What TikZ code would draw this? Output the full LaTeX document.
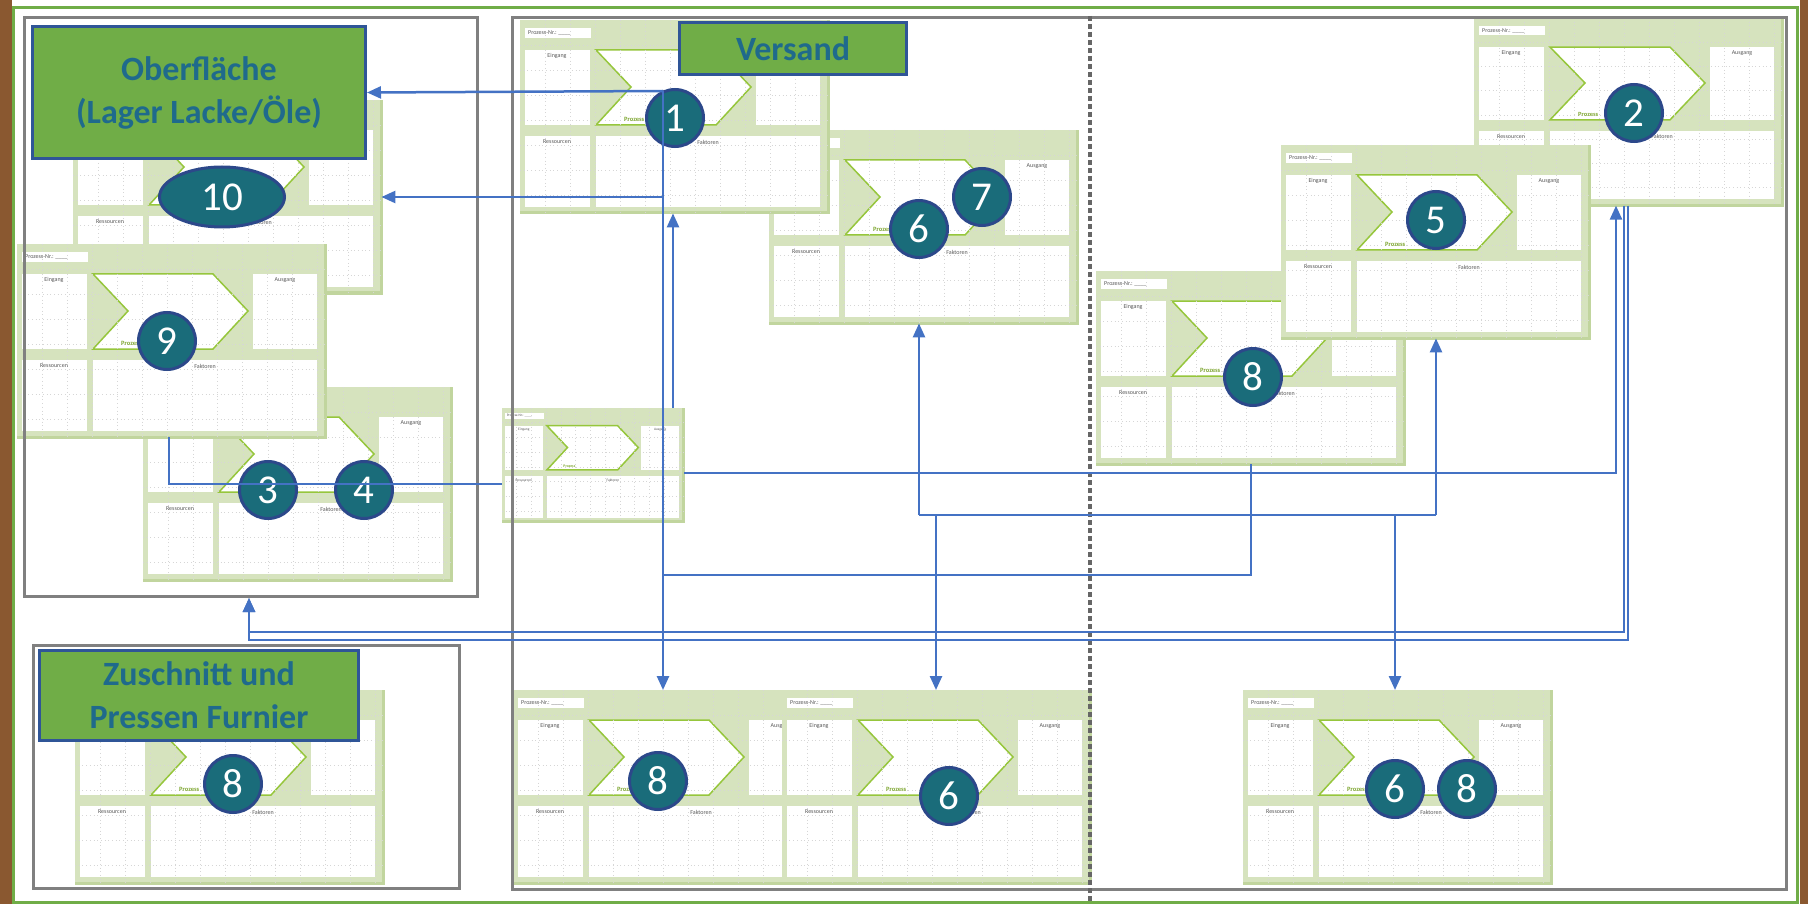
\documentclass[tikz,border=0pt]{standalone}
\usepackage{fontspec}
\setmainfont{Carlito}
\usetikzlibrary{arrows.meta}
\usetikzlibrary{shapes.geometric}

\definecolor{kartengruen}{RGB}{214,227,190}
\definecolor{kartenrand}{RGB}{193,213,158}
\definecolor{pfeilgruen}{RGB}{150,198,60}
\definecolor{etikettgruen}{RGB}{112,173,71}
\definecolor{etikettrand}{RGB}{47,85,151}
\definecolor{schrift}{RGB}{31,106,140}
\definecolor{kreis}{RGB}{26,108,122}
\definecolor{kreisrand}{RGB}{44,72,138}
\definecolor{verbindung}{RGB}{68,114,196}
\definecolor{holz}{RGB}{138,88,48}

\newcommand{\karte}[5]{%
  \begin{scope}[shift={(#2,#3)},xscale=#4,yscale=#5,every node/.append style={transform shape}]
    \fill[kartengruen] (0,0) rectangle (308,193);
    \draw[kartenrand,line width=3pt] (0,193) -- (308,193) -- (308,0);
    \fill[white] (5,8) rectangle (71,18);
    \fill[white] (5,30) rectangle (70,105);
    \fill[white] (236,30) rectangle (300,105);
    \fill[white] (5,116) rectangle (70,187);
    \fill[white] (76,116) rectangle (300,187);
    \filldraw[fill=white,draw=pfeilgruen,line width=1.5pt]
      (76,30) -- (196,30) -- (231,67) -- (196,105) -- (76,105) -- (111,67) -- cycle;
    \foreach \gx in {25,50,...,300} \draw[raster] (\gx,0) -- (\gx,193);
    \foreach \gy in {25,50,...,175} \draw[raster] (0,\gy) -- (308,\gy);
    \node[kartentext,anchor=west] (#1-nr) at (8,13) {Prozess-Nr.: \_\_\_\_};
    \node[kartentext] (#1-ein) at (37,36) {Eingang};
    \node[kartentext] (#1-aus) at (268,36) {Ausgang};
    \node[kartentext] (#1-res) at (37,122) {Ressourcen};
    \node[kartentext] (#1-fak) at (188,122) {Faktoren};
    \node[prozesstext,anchor=west] (#1-pz) at (104,99) {Prozess};
  \end{scope}
  \node[anchor=north west,inner sep=0pt,minimum width=#4*308pt,minimum height=#5*193pt] (#1) at (#2,#3) {};
}

\begin{document}
\begin{tikzpicture}[x=1pt,y=-1pt,
  kartentext/.style={font=\fontsize{6}{6}\selectfont,text=black!65,inner sep=0pt},
  prozesstext/.style={font=\bfseries\fontsize{6.5}{6.5}\selectfont,text=pfeilgruen!85!black,inner sep=0pt},
  raster/.style={black!16,line width=0.6pt,dash pattern=on 0.7pt off 3pt},
  bereich/.style={draw=black!50,line width=3pt,anchor=north west,inner sep=0pt},
  etikett/.style={fill=etikettgruen,draw=etikettrand,line width=3pt,text=schrift,
    font=\bfseries\fontsize{34}{43}\selectfont,align=center,anchor=north west,inner sep=0pt},
  nummer/.style={circle,fill=kreis,draw=kreisrand,line width=3pt,text=white,
    font=\fontsize{41}{41}\selectfont,minimum size=57pt,inner sep=0pt},
  verbinder/.style={verbindung,line width=2.5pt,-{Triangle[length=14pt,width=12pt]}},
  linie/.style={verbindung,line width=2.5pt}]
  \useasboundingbox (0,0) rectangle (1808,904);
  \fill[white] (0,0) rectangle (1808,904);
  \fill[holz] (0,0) rectangle (12,904);
  \fill[holz] (1800,0) rectangle (1808,904);
  \draw[etikettgruen,line width=3pt] (13,8) rectangle (1797,902);

  \karte{cM}{73}{100}{1}{1}
  \karte{cG}{143}{387}{1}{1}
  \karte{cF}{17}{244}{1}{1}
  \karte{cL}{75}{690}{1}{1}
  \karte{cB}{769}{130}{1}{1}
  \karte{cA}{520}{20}{1}{1}
  \karte{cC}{1474}{18}{1}{0.97}
  \karte{cE}{1096}{271}{1}{1}
  \karte{cD}{1281}{145}{1}{1}
  \karte{cH}{502}{408}{0.59}{0.59}
  \karte{cI}{513}{690}{1}{1}
  \karte{cJ}{782}{690}{1}{1}
  \karte{cK}{1243}{690}{1}{1}

  \node[bereich,minimum width=453pt,minimum height=579pt] (oben) at (23,16) {};
  \node[bereich,minimum width=426pt,minimum height=243pt] (unten) at (32,644) {};
  \node[bereich,minimum width=1274pt,minimum height=872pt] (haupt) at (511,16) {};
  \draw[black!60,line width=4pt,dash pattern=on 5pt off 3pt] (1090,16) -- (1090,904);

  \node[etikett,minimum width=333pt,minimum height=132pt] (ober) at (31,25) {Oberfläche\\(Lager Lacke/Öle)};
  \node[etikett,minimum width=227pt,minimum height=52pt] (versand) at (678,21) {Versand};
  \node[etikett,minimum width=319pt,minimum height=90pt] (zuschnitt) at (38,649) {Zuschnitt und\\Pressen Furnier};

  \node[nummer] (n1) at (675,118) {1};
  \node[nummer] (n2) at (1634,113) {2};
  \node[nummer] (n3) at (268,490) {3};
  \node[nummer] (n4) at (364,490) {4};
  \node[nummer] (n5) at (1436,220) {5};
  \node[nummer] (n7) at (982,197) {7};
  \node[nummer] (n6a) at (919,229) {6};
  \node[nummer] (n8a) at (1253,377) {8};
  \node[nummer] (n9) at (167,341) {9};
  \node[nummer,ellipse,minimum width=125pt,minimum height=60pt] (n10) at (222,197) {10};
  \node[nummer] (n8b) at (233,784) {8};
  \node[nummer] (n8c) at (658,781) {8};
  \node[nummer] (n6b) at (949,796) {6};
  \node[nummer] (n6c) at (1395,789) {6};
  \node[nummer] (n8d) at (1467,789) {8};

  \coordinate (t1) at (663,91);
  \coordinate (t2) at (663,197);
  \coordinate (t3) at (663,575);
  \coordinate (h1) at (673,300);
  \coordinate (hl) at (502,484);
  \coordinate (hr) at (684,473);
  \coordinate (f1) at (169,437);
  \coordinate (c1) at (1616,300);
  \coordinate (c2) at (1624,300);
  \coordinate (c3) at (1628,300);
  \coordinate (e1) at (1251,500);
  \coordinate (k1) at (919,515);
  \coordinate (k2) at (936,515);
  \coordinate (k3) at (1395,515);
  \coordinate (k4) at (1436,515);
  \coordinate (o1) at (249,632);
  \coordinate (o2) at (249,640);

  \draw[verbinder] (t1) -- (ober.east);
  \draw[verbinder] (t2) -- (t2 -| cM.east);
  \draw[verbinder] (t1) -- (t1 |- cI.north);
  \draw[verbinder] (h1 |- cH.north) -- (h1 |- cA.south);
  \draw[linie] (hl) -| (f1);
  \draw[verbinder] (hr) -| (c1 |- cC.south);
  \draw[linie] (e1 |- cE.south) |- (t3);
  \draw[linie] (k1) -- (k4);
  \draw[verbinder] (k1) -- (k1 |- cB.south);
  \draw[verbinder] (k4) -- (k4 |- cD.south);
  \draw[verbinder] (k2) -- (k2 |- cJ.north);
  \draw[verbinder] (k3) -- (k3 |- cK.north);
  \draw[verbinder] (c2 |- cC.south) |- (o1) -- (o1 |- oben.south);
  \draw[verbinder] (c3 |- cC.south) |- (o2) -- (o2 |- oben.south);
\end{tikzpicture}
\end{document}
